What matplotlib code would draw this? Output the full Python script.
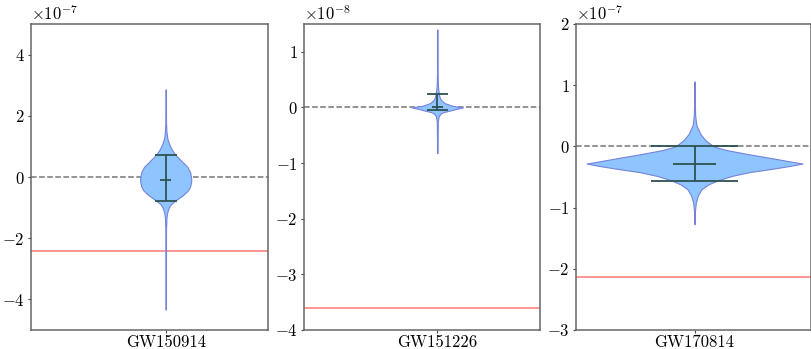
import numpy as np
import matplotlib
matplotlib.use("Agg")
import matplotlib.pyplot as plt

plt.rcParams.update({
    "font.family": "serif",
    "font.serif": ["cmr10"],
    "mathtext.fontset": "cm",
    "axes.formatter.use_mathtext": True,
    "font.size": 12,
})

events = ["GW150914", "GW151226", "GW170814"]
scales = [1e-7, 1e-8, 1e-7]

# violin outlines: y (in units of scale), half width (px)
gw150914_y = [2.86, 1.8, 1.5, 1.25, 1.09, 0.9, 0.73, 0.5, 0.33, 0.15, -0.05, -0.15,
              -0.3, -0.43, -0.6, -0.76, -0.88, -0.98, -1.15, -1.31, -1.7, -4.33]
gw150914_w = [0.2, 0.3, 0.7, 1.7, 3.3, 6.0, 9.5, 16.5, 21.7, 24.5, 25.5, 25.5,
              24.5, 22.5, 17.0, 10.0, 5.5, 3.3, 1.6, 0.8, 0.3, 0.2]

gw151226_y = [1.40, 0.6, 0.4, 0.32, 0.2, 0.14, 0.08, 0.03, 0.0, -0.03, -0.05,
              -0.08, -0.1, -0.15, -0.25, -0.82]
gw151226_w = [0.2, 0.3, 0.6, 1.0, 2.0, 3.5, 7.0, 15.0, 25.5, 18.0, 14.0,
              7.0, 4.0, 1.5, 0.5, 0.2]

gw170814_y = [1.06, 0.7, 0.5, 0.35, 0.2, 0.1, 0.0, -0.06, -0.13, -0.2, -0.25, -0.28,
              -0.32, -0.37, -0.42, -0.48, -0.55, -0.62, -0.7, -0.8, -0.92, -1.05, -1.27]
gw170814_w = [0.2, 0.3, 0.7, 1.8, 6.0, 11.0, 19.0, 32.0, 55.0, 80.0, 97.0, 108.0,
              95.0, 76.0, 55.0, 38.0, 24.0, 14.0, 7.0, 3.5, 1.3, 0.5, 0.2]

profiles_y = [gw150914_y, gw151226_y, gw170814_y]
profiles_w = [gw150914_w, gw151226_w, gw170814_w]

means = [-0.10, 0.005, -0.28]
lower = [-0.77, -0.04, -0.57]
upper = [0.73, 0.234, 0.0]
bounds = [-2.42, -3.61, -2.13]
ylims = [(-5, 5), (-4, 1.5), (-3, 2)]

# layout (px in an 811x349 canvas)
W, H = 811, 349
rects_px = [(31, 268), (304, 540), (576, 811)]
centers_px = [165.7, 437.3, 694.5]
caps_px = [10.9, 10.5, 43.3]
top_px, bottom_px = 24, 330

fig = plt.figure(figsize=(W / 100, H / 100), dpi=100)

for i, ev in enumerate(events):
    l, r = rects_px[i]
    ax = fig.add_axes([l / W, (H - bottom_px) / H, (r - l) / W, (bottom_px - top_px) / H])
    s = scales[i]
    yy = np.array(profiles_y[i]) * s
    ww = np.array(profiles_w[i])
    order = np.argsort(yy)
    stats = [dict(coords=yy[order], vals=ww[order], mean=means[i] * s,
                  median=means[i] * s, min=yy.min(), max=yy.max())]
    parts = ax.violin(stats, positions=[0], widths=2 * ww.max(), showextrema=False)
    for b in parts["bodies"]:
        b.set_facecolor("#8ec5ff")
        b.set_edgecolor("#7482da")
        b.set_alpha(1)
        b.set_linewidth(0.8)
        b.set_zorder(2)

    ec = "#2e5252"
    cw = caps_px[i]
    ax.vlines(0, lower[i] * s, upper[i] * s, color=ec, lw=1.3, zorder=3)
    ax.hlines([lower[i] * s, upper[i] * s], -cw, cw, color=ec, lw=1.3, zorder=3)
    ax.hlines(means[i] * s, -cw / 2, cw / 2, color=ec, lw=1.3, zorder=3)

    ax.axhline(0, color="#777777", ls="--", lw=1.1, zorder=1)
    ax.axhline(bounds[i] * s, color="#ff6060", lw=1.1, alpha=0.85, zorder=1)

    ax.set_xlim(l - centers_px[i], r - centers_px[i])
    ax.set_ylim(ylims[i][0] * s, ylims[i][1] * s)
    ax.set_xticks([0])
    ax.set_xticklabels([ev])
    for sp in ax.spines.values():
        sp.set_color("#666666")
        sp.set_linewidth(1.1)
    ax.tick_params(length=2.5, width=0.8, color="#444444", pad=2)
    ax.tick_params(axis="x", length=2, pad=1.5)

fig.savefig("out.png", dpi=100)
